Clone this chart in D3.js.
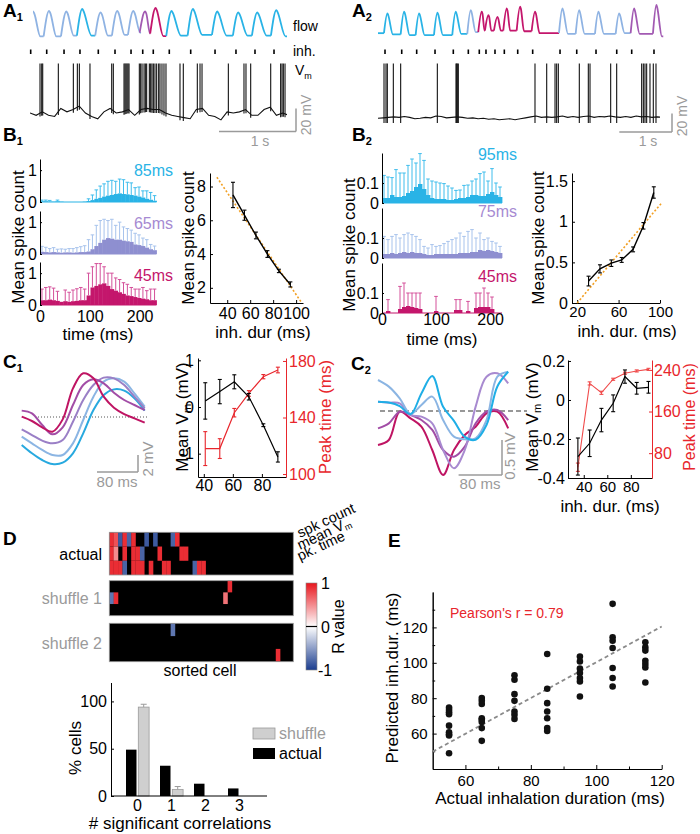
<!DOCTYPE html>
<html>
<head>
<meta charset="utf-8">
<script src="https://cdn.jsdelivr.net/npm/d3@7/dist/d3.min.js"></script>
<style>html,body{margin:0;padding:0;background:#fff}svg{display:block}</style>
</head>
<body>
<svg id="fig" width="700" height="834"></svg>
<script>
// ======================= DATA =======================
// ---- A1 : flow + Vm (cell 1) ----
const a1Onsets = [9,217,442,649,887,1104,1312,1464,1601,1809,2087,2403,2675,2922,3169];      // inhalation onsets (ms)
const a1Peaks  = [0.88,0.9,0.88,0.97,0.85,0.9,0.9,0.88,1.0,0.9,0.97,0.88,0.85,0.85,0.93];    // peak flow (norm.)
const a1InhDur = [125,125,125,150,125,125,120,95,130,150,150,150,150,150,150];              // ms
const a1Trough = [0.03,0.02,0.02,0.05,0.05,0.05,0.07,0.15,0.12,0.03,0.05,0.07,0.05,0.05,0.05];
const a1Class  = ["lblue","lblue","lblue","cyan","lblue","lblue","lblue","purple","magenta","cyan","cyan","cyan","cyan","cyan","cyan"];
const a1VmStep = 80; // ms
const a1Vm = [-60,-62,-59,-62,-63,-56,-59,-57,-54,-60,-63,-65,-59,-56,-60,-59,-57,-62,-57,-56,-57,-57,
              -60,-62,-63,-64,-65,-57,-56,-62,-63,-66,-59,-60,-59,-57,-62,-62,-57,-55,-62,-60,-62];
const a1Spikes = [130,152,165,368,563,615,641,779,1061,1082,1221,1234,1247,1260,1273,1286,1420,1437,1455,
                  1481,1498,1515,1550,1567,1584,1602,1623,1645,1671,1688,1714,1740,1766,1948,1991,2173,
                  2208,2234,2576,2779,2805,2866,3126,3255,3273,3290,3312];

// ---- A2 : flow + Vm (cell 2) ----
const a2Onsets = [133,450,734,1082,1429,1714,1922,2049,2220,2397,2651,2935,3454,3771,4137,4530,4814,5237];
const a2Peaks  = [0.74,0.79,0.74,0.76,0.79,0.84,0.79,0.68,0.63,0.89,0.95,0.79,0.89,0.84,0.79,0.74,0.89,1.0];
const a2InhDur = [150,150,150,150,150,140,100,100,110,110,120,130,150,150,150,150,150,150];
const a2Trough = [0.12,0.08,0.06,0.06,0.06,0.1,0.15,0.2,0.2,0.2,0.2,0.18,0.12,0.1,0.1,0.1,0.12,0.1];
const a2Class  = ["cyan","cyan","cyan","cyan","cyan","lblue","magenta","magenta","magenta","magenta","magenta","magenta",
                  "lblue","lblue","lblue","lblue","purple","purple"];
const a2VmStep = 100;
const a2Vm = [-60,-59.5,-59,-58.5,-59,-58,-59,-60.5,-60,-59,-59.5,-57.5,-58,-59.5,-59,-58.5,-59,-60,-59.5,-60.5,
              -60,-61,-60.5,-61.5,-61,-60.5,-61.5,-60.5,-59.5,-58.5,-57.5,-59,-58.5,-59,-58.5,-57.5,-59,-58,-59,
              -58,-57.5,-59,-58,-58.5,-57.5,-58.5,-59,-58,-59,-57.5,-58.5,-58,-59,-58.5,-59];
const a2Spikes = [114,152,177,291,430,1126,1480,1493,1505,1524,2979,3201,3359,3390,3422,3820,3991,4023,4415,4529,
                  5003,5035,5066,5098,5161,5224,5275];

// ---- B1 : PSTHs (30 bins) ----
const b1BinW = 7.8;
const b1Mean85 = [0.02,0.02,0.01,0.01,0.02,0.01,0,0,0,0,0,0.01,0.03,0.06,0.1,0.13,0.17,0.2,0.22,0.25,0.27,0.25,0.24,0.22,0.2,0.17,0.14,0.1,0.07,0.04];
const b1Err85  = [0.04,0.04,0.04,0,0.04,0,0,0,0,0,0,0,0.07,0.16,0.28,0.37,0.4,0.45,0.46,0.4,0.45,0.45,0.38,0.38,0.25,0.3,0.21,0.25,0.23,0.16];
const b1Mean65 = [0.07,0.06,0.05,0.06,0.05,0.04,0.05,0.05,0.04,0.05,0.06,0.06,0.08,0.15,0.25,0.35,0.45,0.5,0.48,0.45,0.45,0.42,0.4,0.38,0.3,0.28,0.25,0.2,0.15,0.12];
const b1Err65  = [0.17,0.15,0.12,0.14,0.1,0.12,0.1,0.12,0.13,0.15,0.17,0.2,0.37,0.45,0.65,0.7,0.64,0.55,0.61,0.45,0.55,0.43,0.4,0.37,0.35,0.32,0.25,0.25,0.15,0.13];
const b1Mean45 = [0.15,0.15,0.17,0.15,0.13,0.1,0.12,0.1,0.12,0.13,0.15,0.15,0.3,0.55,0.6,0.65,0.68,0.6,0.5,0.45,0.4,0.35,0.3,0.28,0.25,0.22,0.2,0.18,0.15,0.15];
const b1Err45  = [0.35,0.4,0.4,0.38,0.3,0,0.35,0.3,0.35,0.38,0.4,0.35,0.7,0.65,0.7,0.65,0.52,0.4,0.5,0.4,0.4,0.35,0.35,0.27,0.25,0.28,0.35,0.27,0.35,0.35];
const b1Dur   = [45,55,65,75,85,95];
const b1Count = [7.5,6.3,5.1,4.0,3.0,2.2];
const b1CountErr = [0.75,0.3,0.2,0.2,0.1,0.15];
const b1FitSlope = -0.1007, b1FitIntercept = 11.67, b1FitRange = [31,105];

// ---- B2 ----
const b2BinW = 7.4;
const b2Mean95 = [0.025,0.025,0.04,0.03,0.03,0.035,0.05,0.06,0.08,0.095,0.07,0.04,0.025,0.02,0.02,0.02,0.015,0.015,0.02,0.025,0.025,0.03,0.04,0.04,0.035,0.035,0.045,0.055,0.04,0.03];
const b2Err95  = [0.113,0.105,0.087,0.137,0.12,0.115,0.138,0.16,0.12,0.152,0.143,0.08,0.085,0.085,0.08,0.077,0.07,0.06,0.043,0.04,0.063,0.06,0.07,0.08,0.112,0.12,0.065,0.117,0.06,0.05];
const b2Mean75 = [0.02,0.02,0.025,0.02,0.025,0.03,0.025,0.03,0.025,0.025,0.02,0.015,0.015,0.02,0.02,0.02,0.02,0.02,0.02,0.025,0.025,0.025,0.03,0.03,0.04,0.035,0.04,0.035,0.03,0.025];
const b2Err75  = [0.088,0.072,0.083,0.097,0.075,0.087,0.1,0.087,0.083,0.067,0.038,0.035,0.052,0.038,0.042,0.052,0.063,0.072,0.08,0.1,0.083,0.108,0.112,0.07,0.085,0.057,0.06,0.048,0.045,0.033];
const b2Mean45 = [0,0.01,0,0,0.02,0.03,0.035,0.03,0.025,0.02,0,0,0,0.01,0,0,0,0,0.015,0.015,0,0.01,0,0.025,0.03,0.03,0.03,0.02,0,0];
const b2Err45  = [0,0.057,0,0,0.113,0.12,0.065,0.07,0.075,0.08,0,0,0,0.073,0,0,0,0,0.052,0.052,0,0.048,0,0.075,0.07,0.095,0.07,0.06,0,0];
const b2Dur   = [31,42,53,63,74,84,94];
const b2Count = [0.27,0.42,0.49,0.53,0.66,0.95,1.36];
const b2CountErr = [0.06,0.05,0.04,0.03,0.03,0.04,0.07];
const b2FitSlope = 0.0151, b2FitIntercept = -0.302, b2FitRange = [20,102];

// ---- C1 : mean Vm traces (mV, every 20 ms) and summary ----
const cTime = [0,20,40,60,80,100,120,140,160,180,200,220,240];
const c1Magenta = [0.04,-0.47,-1.22,-1.73,-0.28,3.37,5.14,4.55,2.39,1.1,0.35,-0.16,-0.67];
const c1Purple  = [0.75,0.43,-0.94,-2.04,-1.22,1.41,3.76,4.43,3.96,2.86,2.0,1.41,0.82];
const c1Lav     = [-1.45,-2.12,-2.78,-3.1,-2.71,-0.55,2.0,3.76,4.63,4.55,3.76,2.39,1.02];
const c1LBlue   = [-2.31,-3.1,-3.88,-4.47,-4.47,-3.1,-0.35,2.39,4.16,4.55,4.16,2.78,1.22];
const c1Cyan    = [-3.29,-4.27,-5.06,-5.53,-5.37,-4.27,-1.92,0.82,2.59,3.25,3.1,2.2,0.75];
const c1Dur     = [41,51,61,71,81,91];
const c1MeanVm  = [0.13,0.33,0.54,0.22,-0.39,-1.07];
const c1MeanVmErr = [0.39,0.26,0.15,0.07,0.03,0.11];
const c1Peak    = [118,118,143.4,157,168.9,173.6];
const c1PeakErr = [12,7,3,2,1.5,2];

// ---- C2 ----
const c2Cyan    = [0.133,0.12,0.07,-0.045,0.25,0.5,0.06,-0.14,-0.37,-0.41,-0.2,0.35,0.56];
const c2LBlue   = [0.443,0.348,0.181,-0.043,0.086,0.205,-0.129,-0.367,-0.405,-0.39,-0.129,0.49,0.562];
const c2Lav     = [0.133,0.119,0.11,-0.057,-0.081,-0.176,-0.557,-0.819,-0.557,0.062,0.49,0.538,0.395];
const c2Purple  = [-0.248,-0.176,-0.01,-0.057,-0.129,-0.271,-0.557,-0.652,-0.51,-0.176,-0.01,0.014,-0.129];
const c2Magenta = [-0.486,-0.414,-0.01,-0.105,-0.224,-0.557,-0.914,-0.557,-0.343,-0.224,-0.033,-0.01,-0.248];
const c2Dur     = [35,45,55,65,75,85,95];
const c2MeanVm  = [-0.29,-0.222,-0.103,-0.017,0.12,0.06,0.065];
const c2MeanVmErr = [0.095,0.068,0.06,0.043,0.034,0.03,0.03];
const c2Peak    = [53,214,196,222,233.6,238,241];
const c2PeakErr = [8,3,3,2,2,2,2];

// ---- D : correlation heat maps [row, sorted cell, R] ----
const hmCells = 42;
const hmActual = [[0,0,0.9],[0,1,0.75],[0,2,-0.85],[0,3,0.9],[0,4,-0.8],[0,5,0.9],[0,8,-0.85],[0,10,-0.85],[0,14,-0.8],[0,15,0.9],
  [1,0,0.9],[1,1,0.5],[1,3,0.9],[1,5,0.9],[1,6,0.9],[1,7,-0.8],[1,11,0.9],[1,16,0.9],[1,17,0.9],
  [2,0,0.9],[2,1,0.9],[2,2,0.9],[2,3,-0.8],[2,5,0.9],[2,6,0.9],[2,7,0.9],[2,9,0.9],[2,12,0.9],[2,13,0.9],[2,19,-0.8],[2,20,0.9],[2,21,0.9]];
const hmShuffle1 = [[0,27,0.9],[1,26,0.6],[1,0,-0.7],[1,1,0.9]];
const hmShuffle2 = [[0,14,-0.7],[2,38,0.9]];
const dCats = ["0","1","2","3"];
const dActualPct = [49,32,13,8];
const dShufflePct = [94,7,0,0];
const dShuffleErr = [3,3,0,0];

// ---- E : decoding ----
const eActual = [55,65,75,85,95,105,115];
const ePredicted = [
  [74.7,73.4,72.1,71.0,64.5,60.8,59.7,58.9,48.9],
  [80.1,78.5,76.7,68.7,67.8,66.5,63.1,55.9],
  [92.9,90.4,82.3,78.5,72.5,70.6,68.3],
  [105.0,85.3,77.2,72.5,68.7,63.1,61.5],
  [103.6,100.8,96.7,94.2,91.4,89.5,81.0],
  [133.3,114.4,112.5,108.4,97.1,91.4,86.6],
  [111.6,108.7,106.9,101.2,99.3,97.4,88.9]];
const eFitSlope = 1.01, eFitIntercept = -0.7;

// ======================= DRAWING =======================
const COL = {cyan:"#29b3e6", lblue:"#8fb3e3", purple:"#a25ab2", magenta:"#c4166c", lav:"#8e8fd0"};
const RED = "#e8262c";
const GRAY = "#9a9a9a";
const FF = "'Liberation Sans', Arial, Helvetica, sans-serif";
const svg = d3.select("#fig");
svg.append("rect").attr("width",700).attr("height",834).attr("fill","#fff");
const defs = svg.append("defs");

function T(x,y,s,o={}){
  const t = svg.append("text").attr("x",x).attr("y",y).attr("font-family",FF)
    .attr("font-size",o.size||16).attr("fill",o.fill||"#000").attr("text-anchor",o.anchor||"start");
  if(o.weight) t.attr("font-weight",o.weight);
  if(o.rot!=null) t.attr("transform",`rotate(${o.rot},${x},${y})`);
  if(Array.isArray(s)){
    s.forEach(p=>{const sp=t.append("tspan").text(p.t); if(p.size) sp.attr("font-size",p.size); if(p.dy) sp.attr("dy",p.dy);});
  } else t.text(s);
  return t;
}
function L(x1,y1,x2,y2,c="#000",w=1,dash){
  const l=svg.append("line").attr("x1",x1).attr("y1",y1).attr("x2",x2).attr("y2",y2).attr("stroke",c).attr("stroke-width",w);
  if(dash) l.attr("stroke-dasharray",dash);
  return l;
}
function panelLabel(x,y,letter,sub){
  T(x,y, sub ? [{t:letter},{t:sub,size:11,dy:4}] : letter, {size:19,weight:"bold"});
}
function ax(gen,tx,ty,o={}){
  const g=svg.append("g").attr("transform",`translate(${tx},${ty})`).call(gen);
  g.attr("font-family",FF).attr("font-size",o.size||16);
  const c=o.color||"#000";
  g.select(".domain").attr("stroke",c).attr("stroke-width",1);
  g.selectAll(".tick line").attr("stroke",c);
  g.selectAll(".tick text").attr("fill",o.tc||c);
  if(o.noDomain) g.select(".domain").remove();
  return g;
}
const fmt = d => String(d);
function clipRect(id,x0,y0,x1,y1){
  defs.append("clipPath").attr("id",id).append("rect").attr("x",x0).attr("y",y0).attr("width",x1-x0).attr("height",y1-y0);
}

// ----- flow & Vm helpers -----
function drawFlow(on,pk,dur,tr,cls,endTr,xs,ys,lead,pkOff,t0,t1,clipId){
  clipRect(clipId, xs(t0), 0, xs(t1), 45);
  const g = svg.append("g").attr("clip-path",`url(#${clipId})`);
  const line = d3.line().x(d=>xs(d[0])).y(d=>ys(d[1])).curve(d3.curveMonotoneX);
  const style = (p,c)=>p.attr("fill","none").attr("stroke",COL[c]).attr("stroke-width",1.8).attr("stroke-linejoin","round");
  style(g.append("path").attr("d",line([[t0-50,tr[0]],[on[0]-lead,tr[0]]])), cls[0]);
  on.forEach((t,i)=>{
    const last = i===on.length-1;
    const nxt = last ? t+dur[i]+600 : on[i+1]-lead;
    const ntr = last ? endTr : tr[i+1];
    const pts = [[t-lead,tr[i]],[t+pkOff,pk[i]],[t+pkOff+15,pk[i]*0.93],[t+dur[i],ntr],[nxt,ntr]];
    style(g.append("path").attr("d",line(pts)), cls[i]);
  });
}
function drawVm(vals,step,spikes,xs,ys,peak,ahp,clipId,x0,x1){
  clipRect(clipId,x0,55,x1,140);
  const g = svg.append("g").attr("clip-path",`url(#${clipId})`);
  const ts = vals.map((v,i)=>i*step);
  const base = d3.scaleLinear().domain(ts).range(vals);
  g.append("path").attr("d",d3.line().x((v,i)=>xs(ts[i])).y(v=>ys(v))(vals))
    .attr("fill","none").attr("stroke","#111").attr("stroke-width",1.1);
  spikes.forEach(t=>{
    g.append("line").attr("x1",xs(t)).attr("x2",xs(t)).attr("y1",ys(ahp===null?base(t)-3:ahp)).attr("y2",ys(peak))
      .attr("stroke","#111").attr("stroke-width",1.1);
  });
}

// ======================= A1 =======================
panelLabel(3,17,"A","1");
const a1x = d3.scaleLinear().domain([0,1000]).range([30,107]);
const a1fy = d3.scaleLinear().domain([0,1]).range([37,8]);
drawFlow(a1Onsets,a1Peaks,a1InhDur,a1Trough,a1Class,0.02,a1x,a1fy,40,30,40,3338,"clA1f");
a1Onsets.forEach(t=>L(a1x(t),49.5,a1x(t),54,"#000",1.6));
T(293,31,"flow",{size:14}); T(293,56,"inh.",{size:14});
T(295,75,[{t:"V"},{t:"m",size:9,dy:4}],{size:14});
const a1vy = d3.scaleLinear().domain([-60,-20]).range([113,67]);
drawVm(a1Vm,a1VmStep,a1Spikes,a1x,a1vy,-17,null,"clA1v",30,287);
{
  const r=296, y=131.5;
  L(r-(a1x(1000)-a1x(0)),y,r,y,GRAY,1.5);
  L(r,y,r,y-(a1vy(-60)-a1vy(-40)),GRAY,1.5);
  T(260,146,"1 s",{size:14,fill:GRAY,anchor:"middle"});
  T(311,115,"20 mV",{size:14,fill:GRAY,anchor:"middle",rot:-90});
}

// ======================= A2 =======================
panelLabel(352,17,"A","2");
const a2x = d3.scaleLinear().domain([0,1000]).range([378,430.7]);
const a2fy = d3.scaleLinear().domain([0,1]).range([37,5]);
drawFlow(a2Onsets,a2Peaks,a2InhDur,a2Trough,a2Class,0.02,a2x,a2fy,20,45,0,5413,"clA2f");
a2Onsets.forEach(t=>L(a2x(t),49.5,a2x(t),54,"#000",1.6));
const a2vy = d3.scaleLinear().domain([-60,0]).range([118.3,62.5]);
drawVm(a2Vm,a2VmStep,a2Spikes,a2x,a2vy,-1,-65,"clA2v",375,660);
{
  const r=672, y=132;
  L(r-(a2x(1000)-a2x(0)),y,r,y,GRAY,1.5);
  L(r,y,r,y-(a2vy(-60)-a2vy(-40)),GRAY,1.5);
  T(648,146,"1 s",{size:14,fill:GRAY,anchor:"middle"});
  T(687,116,"20 mV",{size:14,fill:GRAY,anchor:"middle",rot:-90});
}

// ======================= B helpers =======================
function histPanel(xs,binW,bottom,h,ymax,means,errs,fill,errCol,ticks,axisX){
  const y = d3.scaleLinear().domain([0,ymax]).range([bottom,bottom-h]);
  const bw = xs(binW)-xs(0);
  means.forEach((m,i)=>{ if(m>0) svg.append("rect").attr("x",xs(i*binW)).attr("y",y(m)).attr("width",bw+0.4).attr("height",y(0)-y(m)).attr("fill",fill); });
  L(xs(0),y(0),xs(means.length*binW),y(0),fill,1.2);
  errs.forEach((e,i)=>{
    if(e<=0) return;
    const cx = xs((i+0.5)*binW), m=means[i];
    L(cx,y(m),cx,y(m+e),errCol,1);
    L(cx-1.8,y(m+e),cx+1.8,y(m+e),errCol,1);
  });
  ax(d3.axisLeft(y).tickValues(ticks).tickFormat(fmt).tickSizeInner(-2).tickSizeOuter(0).tickPadding(3),axisX,0);
  return y;
}
function linePlot(xs,ys,xv,yv,ev,color,w){
  svg.append("path").attr("d",d3.line().x((d,i)=>xs(xv[i])).y(d=>ys(d))(yv))
    .attr("fill","none").attr("stroke",color).attr("stroke-width",w||1.3);
  yv.forEach((v,i)=>{
    const cx=xs(xv[i]);
    L(cx,ys(v-ev[i]),cx,ys(v+ev[i]),color,1.1);
    L(cx-2,ys(v-ev[i]),cx+2,ys(v-ev[i]),color,1.1);
    L(cx-2,ys(v+ev[i]),cx+2,ys(v+ev[i]),color,1.1);
  });
}

// ======================= B1 =======================
panelLabel(3,141,"B","1");
const b1x = d3.scaleLinear().domain([0,235]).range([40,157]);
histPanel(b1x,b1BinW,202,43,1.35,b1Mean85,b1Err85,COL.cyan,"#3fbdec",[0,1],40);
histPanel(b1x,b1BinW,254,43,1.35,b1Mean65,b1Err65,COL.lav,"#a7c3ec",[0,1],40);
histPanel(b1x,b1BinW,305,43,1.35,b1Mean45,b1Err45,COL.magenta,"#d4509a",[0,1],40);
T(173,176,"85ms",{anchor:"end",fill:COL.cyan});
T(173,229,"65ms",{anchor:"end",fill:"#a68ad2"});
T(173,281,"45ms",{anchor:"end",fill:COL.magenta});
ax(d3.axisBottom(b1x).tickValues([0,100,200]).tickFormat(fmt).tickSize(0).tickPadding(5.5),0,305,{noDomain:true});
T(24,237,"Mean spike count",{size:17,anchor:"middle",rot:-90});
T(98,340,"time (ms)",{size:17,anchor:"middle"});

const b1rx = d3.scaleLinear().domain([25,106]).range([210,303]);
const b1ry = d3.scaleLinear().domain([1.1,8.8]).range([303,173]);
ax(d3.axisLeft(b1ry).tickValues([2,4,6,8]).tickFormat(fmt).tickSizeInner(-3).tickSizeOuter(0).tickPadding(4),210,0);
ax(d3.axisBottom(b1rx).tickValues([40,60,80,100]).tickFormat(fmt).tickSizeInner(-3).tickSizeOuter(0).tickPadding(4.5),0,303);
L(b1rx(b1FitRange[0]),b1ry(b1FitSlope*b1FitRange[0]+b1FitIntercept),b1rx(b1FitRange[1]),b1ry(b1FitSlope*b1FitRange[1]+b1FitIntercept),"#f2a024",1.6,"2,2");
linePlot(b1rx,b1ry,b1Dur,b1Count,b1CountErr,"#000",1.4);
T(194,238,"Mean spike count",{size:17,anchor:"middle",rot:-90});
T(263,338,"inh. dur (ms)",{size:17,anchor:"middle"});

// ======================= B2 =======================
panelLabel(352,141,"B","2");
const b2x = d3.scaleLinear().domain([0,222]).range([382,502]);
histPanel(b2x,b2BinW,203,50,0.25,b2Mean95,b2Err95,COL.cyan,"#3fbdec",[0,0.1],382);
histPanel(b2x,b2BinW,258,50,0.25,b2Mean75,b2Err75,COL.lav,"#a7c3ec",[0,0.1],382);
histPanel(b2x,b2BinW,313,50,0.25,b2Mean45,b2Err45,COL.magenta,"#d4509a",[0,0.1],382);
T(517,160,"95ms",{anchor:"end",fill:COL.cyan});
T(517,217,"75ms",{anchor:"end",fill:"#a68ad2"});
T(517,282,"45ms",{anchor:"end",fill:COL.magenta});
ax(d3.axisBottom(b2x).tickValues([0,100,200]).tickFormat(fmt).tickSize(0).tickPadding(1),0,313,{noDomain:true});
T(355,245,"Mean spike count",{size:17,anchor:"middle",rot:-90});
T(442,345,"time (ms)",{size:17,anchor:"middle"});

const b2rx = d3.scaleLinear().domain([15,100]).range([572,660]);
const b2ry = d3.scaleLinear().domain([0,1.6]).range([303,173]);
ax(d3.axisLeft(b2ry).tickValues([0,0.5,1,1.5]).tickFormat(fmt).tickSizeInner(-3).tickSizeOuter(0).tickPadding(4),572,0);
ax(d3.axisBottom(b2rx).tickValues([20,60,100]).tickFormat(fmt).tickSizeInner(-3).tickSizeOuter(0).tickPadding(3),0,303,{size:15});
L(b2rx(b2FitRange[0]),b2ry(b2FitSlope*b2FitRange[0]+b2FitIntercept),b2rx(b2FitRange[1]),b2ry(b2FitSlope*b2FitRange[1]+b2FitIntercept),"#f2a024",1.6,"2,2");
linePlot(b2rx,b2ry,b2Dur,b2Count,b2CountErr,"#000",1.4);
T(544,238,"Mean spike count",{size:17,anchor:"middle",rot:-90});
T(627,337,"inh. dur. (ms)",{size:17,anchor:"middle"});

// ======================= C helpers =======================
function traces(xs,ys,series){
  const line = d3.line().x((d,i)=>xs(cTime[i])).y(d=>ys(d)).curve(d3.curveCatmullRom.alpha(0.5));
  series.forEach(s=>svg.append("path").attr("d",line(s.v)).attr("fill","none").attr("stroke",s.c).attr("stroke-width",2));
}
const vmLabel = [{t:"Mean V"},{t:"m",size:11,dy:3},{t:" (mV)",dy:-3}];

// ======================= C1 =======================
panelLabel(3,368,"C","1");
const c1x = d3.scaleLinear().domain([0,80]).range([21.7,62.7]);
const c1y = d3.scaleLinear().domain([0,2]).range([417,400]);
L(35,c1y(0),147,c1y(0),"#555",1,"1,2");
traces(c1x,c1y,[
  {v:c1Cyan,c:"#27a9df"},{v:c1LBlue,c:"#8bb5e3"},{v:c1Lav,c:"#9a7fc6"},{v:c1Purple,c:"#a24da6"},{v:c1Magenta,c:"#bf1463"}]);
{
  const cx=138, cy=472;
  L(cx-(c1x(80)-c1x(0)),cy,cx,cy,GRAY,1.5);
  L(cx,cy,cx,cy-(c1y(0)-c1y(2)),GRAY,1.5);
  T(117,487,"80 ms",{size:15,fill:GRAY,anchor:"middle"});
  T(153,459,"2 mV",{size:15,fill:GRAY,anchor:"middle",rot:-90});
}
const c1rx = d3.scaleLinear().domain([36,96.6]).range([198,286]);
const c1ly = d3.scaleLinear().domain([-1.5,1.05]).range([477,358]);
const c1ry = d3.scaleLinear().domain([97.9,182.1]).range([477,358]);
ax(d3.axisLeft(c1ly).tickValues([-1,0,1]).tickFormat(fmt).tickSizeInner(-3).tickSizeOuter(0).tickPadding(4),198,0);
ax(d3.axisBottom(c1rx).tickValues([40,60,80]).tickFormat(fmt).tickSizeInner(-3).tickSizeOuter(0).tickPadding(2.6),0,477);
ax(d3.axisRight(c1ry).tickValues([100,140,180]).tickFormat(fmt).tickSizeInner(-3).tickSizeOuter(0).tickPadding(3),286,0,{color:RED});
linePlot(c1rx,c1ry,c1Dur,c1Peak,c1PeakErr,RED,1.2);
linePlot(c1rx,c1ly,c1Dur,c1MeanVm,c1MeanVmErr,"#000",1.2);
T(188,417,vmLabel,{size:17,anchor:"middle",rot:-90});
T(331,417,"Peak time (ms)",{size:17,anchor:"middle",rot:-90,fill:RED});

// ======================= C2 =======================
panelLabel(351,370,"C","2");
const c2x = d3.scaleLinear().domain([0,80]).range([378,421.4]);
const c2y = d3.scaleLinear().domain([0,0.5]).range([411,376]);
L(380,c2y(0),527,c2y(0),"#333",1.2,"5,3");
traces(c2x,c2y,[
  {v:c2Magenta,c:"#bf1463"},{v:c2Purple,c:"#a24da6"},{v:c2Lav,c:"#a88ad0"},{v:c2LBlue,c:"#8bb5e3"},{v:c2Cyan,c:"#1faee6"}]);
{
  const cx=502, cy=475;
  L(cx-(c2x(80)-c2x(0)),cy,cx,cy,GRAY,1.5);
  L(cx,cy,cx,cy-(c2y(0)-c2y(0.5)),GRAY,1.5);
  T(480,489,"80 ms",{size:15,fill:GRAY,anchor:"middle"});
  T(515,456,"0.5 mV",{size:15,fill:GRAY,anchor:"middle",rot:-90});
}
const c2rx = d3.scaleLinear().domain([26.6,98]).range([568,652]);
const c2ly = d3.scaleLinear().domain([-0.4,0.205]).range([478,360]);
const c2ry = d3.scaleLinear().domain([32.3,259]).range([478,360]);
ax(d3.axisLeft(c2ly).tickValues([-0.4,-0.2,0,0.2]).tickFormat(fmt).tickSizeInner(-3).tickSizeOuter(0).tickPadding(3),568,0);
ax(d3.axisBottom(c2rx).tickValues([40,60,80]).tickFormat(fmt).tickSizeInner(-3).tickSizeOuter(0).tickPadding(3),0,478,{size:15});
ax(d3.axisRight(c2ry).tickValues([80,160,240]).tickFormat(fmt).tickSizeInner(-3).tickSizeOuter(0).tickPadding(2),652,0,{color:RED});
linePlot(c2rx,c2ry,c2Dur,c2Peak,c2PeakErr,"#f04a4a",1.1);
linePlot(c2rx,c2ly,c2Dur,c2MeanVm,c2MeanVmErr,"#000",1.2);
T(538,417,vmLabel,{size:17,anchor:"middle",rot:-90});
T(695,417,"Peak time (ms)",{size:16,anchor:"middle",rot:-90,fill:RED});
T(610,512,"inh. dur. (ms)",{size:17,anchor:"middle"});

// ======================= D heat maps =======================
panelLabel(3,545,"D");
const hx = d3.scaleLinear().domain([0,hmCells]).range([109.3,293.3]);
const hColor = d3.scaleLinear().domain([-1,0,1]).range(["#1b3d8f","#ffffff","#e8161d"]);
function heat(cells,y0,y1,label,labCol){
  const hy = d3.scaleBand().domain([0,1,2]).range([y0,y1]);
  svg.append("rect").attr("x",hx(0)).attr("y",y0).attr("width",hx(hmCells)-hx(0)).attr("height",y1-y0).attr("fill","#000");
  cells.forEach(c=>svg.append("rect").attr("x",hx(c[1])).attr("y",hy(c[0])).attr("width",hx(1)-hx(0)+0.2).attr("height",hy.bandwidth()).attr("fill",hColor(c[2])));
  svg.append("rect").attr("x",hx(0)).attr("y",y0).attr("width",hx(hmCells)-hx(0)).attr("height",y1-y0).attr("fill","none").attr("stroke","#999").attr("stroke-width",0.8);
  T(102,(y0+y1)/2+6,label,{anchor:"end",fill:labCol});
}
heat(hmActual,532.3,575,"actual","#000");
heat(hmShuffle1,580.7,615.7,"shuffle 1",GRAY);
heat(hmShuffle2,623.3,661.7,"shuffle 2",GRAY);
T(300,538,"spk count",{size:14.5,rot:-25});
T(300,550,[{t:"mean V"},{t:"m",size:9,dy:2}],{size:14.5,rot:-25});
T(300,561,"pk. time",{size:14.5,rot:-25});
T(200,676,"sorted cell",{anchor:"middle"});
// colour bar
{
  const grad = defs.append("linearGradient").attr("id","cbar").attr("x1",0).attr("y1",0).attr("x2",0).attr("y2",1);
  [[0,hColor(1)],[0.5,hColor(0)],[1,hColor(-1)]].forEach(s=>grad.append("stop").attr("offset",s[0]).attr("stop-color",s[1]));
  const cy = d3.scaleLinear().domain([-1,1]).range([670,583]);
  svg.append("rect").attr("x",306).attr("y",cy(1)).attr("width",11).attr("height",cy(-1)-cy(1)).attr("fill","url(#cbar)").attr("stroke","#888").attr("stroke-width",0.6);
  L(306,cy(0),317,cy(0),"#000",1.2);
  T(321,cy(1)+6,"1"); T(321,cy(0)+6,"0"); T(318,cy(-1)+6,"-1");
  T(344,cy(0),"R value",{anchor:"middle",rot:-90});
}

// ======================= D bar chart =======================
const dx = d3.scaleBand().domain(dCats).range([120.5,256.5]);
const dy = d3.scaleLinear().domain([0,120]).range([796,682.5]);
dCats.forEach((c,i)=>{
  const cx = dx(c)+dx.bandwidth()/2;
  svg.append("rect").attr("x",cx-11.5).attr("y",dy(dActualPct[i])).attr("width",10.5).attr("height",dy(0)-dy(dActualPct[i])).attr("fill","#000");
  if(dShufflePct[i]>0){
    svg.append("rect").attr("x",cx+0.8).attr("y",dy(dShufflePct[i])).attr("width",10.8).attr("height",dy(0)-dy(dShufflePct[i]))
      .attr("fill","#cfcfcf").attr("stroke","#9a9a9a").attr("stroke-width",0.8);
    const ex = cx+6.2, top = dy(dShufflePct[i]+dShuffleErr[i]);
    L(ex,dy(dShufflePct[i]),ex,top,"#9a9a9a",1);
    L(ex-3,top,ex+3,top,"#9a9a9a",1);
  }
});
ax(d3.axisLeft(dy).tickValues([0,50,100]).tickFormat(fmt).tickSizeInner(-3).tickSizeOuter(0).tickPadding(4),111,0);
svg.append("line").attr("x1",111).attr("x2",267).attr("y1",796).attr("y2",796).attr("stroke","#000");
ax(d3.axisBottom(dx).tickSize(0).tickPadding(4),0,796,{noDomain:true});
T(81,748,"% cells",{size:17,anchor:"middle",rot:-90});
T(180,829,"# significant correlations",{size:17,anchor:"middle"});
svg.append("rect").attr("x",253).attr("y",728).attr("width",22).attr("height",11).attr("fill","#cfcfcf").attr("stroke","#9a9a9a").attr("stroke-width",0.8);
T(279,739,"shuffle",{size:16,fill:GRAY});
svg.append("rect").attr("x",253).attr("y",748).attr("width",22).attr("height",11).attr("fill","#000");
T(279,759,"actual",{size:16});

// ======================= E =======================
panelLabel(388,547,"E");
const ex = d3.scaleLinear().domain([50,120]).range([432.7,661.7]);
const ey = d3.scaleLinear().domain([40,140]).range([769,592]);
ax(d3.axisLeft(ey).tickValues([60,80,100,120]).tickFormat(fmt).tickSizeInner(-4).tickSizeOuter(0).tickPadding(5),432.7,0,{size:15});
ax(d3.axisLeft(ey).tickValues([50,70,90,110,130]).tickFormat("").tickSizeInner(-2.5).tickSizeOuter(0),432.7,0,{size:15});
ax(d3.axisBottom(ex).tickValues([60,80,100,120]).tickFormat(fmt).tickSizeInner(-4).tickSizeOuter(0).tickPadding(6),0,769,{size:15});
ax(d3.axisBottom(ex).tickValues([70,90,110]).tickFormat("").tickSizeInner(-2.5).tickSizeOuter(0),0,769,{size:15});
L(ex(50),ey(eFitSlope*50+eFitIntercept),ex(120),ey(eFitSlope*120+eFitIntercept),"#8a8a8a",1.8,"4,3");
eActual.forEach((a,i)=>ePredicted[i].forEach(p=>svg.append("circle").attr("cx",ex(a)).attr("cy",ey(p)).attr("r",3.3).attr("fill","#111")));
T(450,618,"Pearson's r = 0.79",{size:14,fill:RED});
T(398,678,"Predicted inh.dur. (ms)",{size:17,anchor:"middle",rot:-90});
T(550,804,"Actual inhalation duration (ms)",{size:17,anchor:"middle"});
</script>
</body>
</html>
